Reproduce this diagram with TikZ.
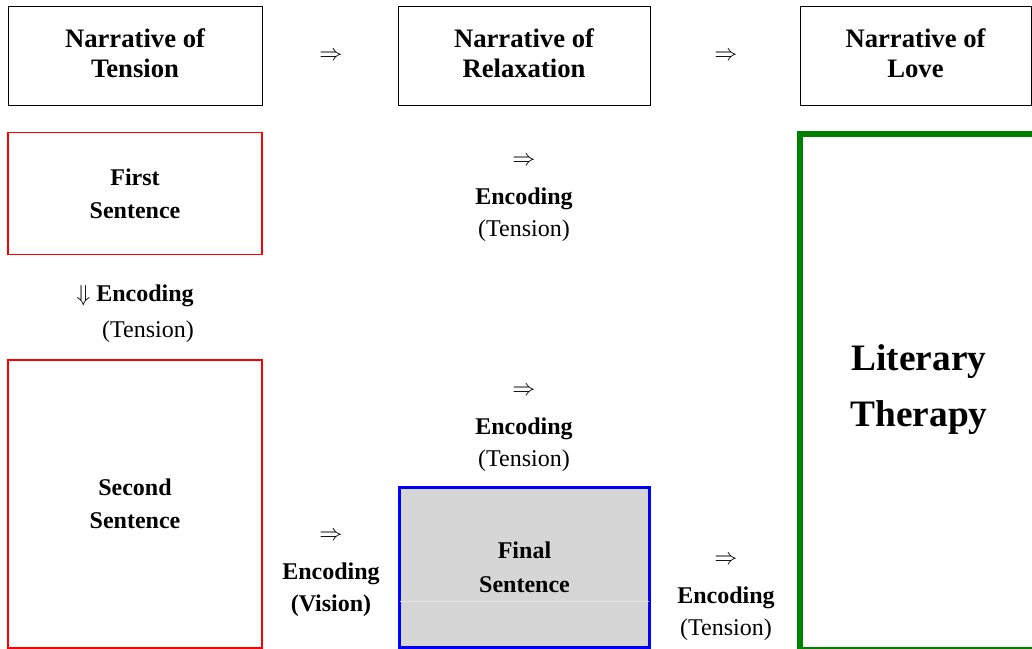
\documentclass[tikz,border=0pt]{standalone}
\usepackage{fontspec}
\setmainfont{Liberation Serif}
\usetikzlibrary{positioning}

\tikzset{
  headbox/.style={draw=black, line width=0.75pt, minimum height=74.25pt, align=center,
    font=\fontsize{20}{22.5}\selectfont\bfseries},
  sentbox/.style={draw=red, line width=0.9pt, minimum width=190.5pt, align=center,
    font=\fontsize{18}{24.5}\selectfont\bfseries},
  enctext/.style={align=center, font=\fontsize{18}{24}\selectfont},
}

\begin{document}
\begin{tikzpicture}[x=0.75pt,y=0.75pt,yscale=-1,xscale=1]
\useasboundingbox (0,0) rectangle (1032,649);

%Top row
\node [headbox, minimum width=190.5pt] (tension) at (135,56.5) {Narrative of\\Tension\\[-18pt]};
\node [headbox, minimum width=189pt] (relax) at (524,56.5) {Narrative of\\Relaxation\\[-18pt]};
\node [headbox, minimum width=173.25pt] (love) at (915.5,56.5) {Narrative of\\Love\\[-18pt]};
\node [enctext] (arrA) at (331,56) {$\Rightarrow$};
\node [enctext] (arrB) at (726,56) {$\Rightarrow$};

%Sentences
\node [sentbox, minimum height=91.5pt] (first) at (135,193.5) {First\\Sentence};
\node [sentbox, minimum height=216pt] (second) at (135,504) {Second\\Sentence};
\node [draw=blue, line width=2.25pt, fill={rgb,255:red,214;green,214;blue,214},
  minimum width=188pt, minimum height=120pt, align=center,
  font=\fontsize{18}{25.5}\selectfont\bfseries] (final) at (524.5,567) {Final\\Sentence};
\draw [color={rgb,255:red,228;green,228;blue,228}, line width=0.6pt] (400,601) -- (649,601);

%Literary therapy
\draw [color={rgb,255:red,0;green,128;blue,0}, line width=4.5pt] (1040,134) -- (800,134) -- (800,649.5);
\draw [color={rgb,255:red,0;green,128;blue,0}, line width=1.5pt] (800,647.5) -- (1040,647.5);
\node [align=center, font=\fontsize{28}{42}\selectfont\bfseries] (therapy) at (919,390) {Literary\\Therapy};

%Encodings
\node [enctext] (encA) at (524,199) {$\Rightarrow$\\[5pt]\textbf{Encoding}\\(Tension)};
\node [enctext, align=right] (encB) at (135,314) {$\Downarrow$ \textbf{Encoding}\\[3pt](Tension)};
\node [enctext] (encC) at (524,429) {$\Rightarrow$\\[5pt]\textbf{Encoding}\\(Tension)};
\node [enctext] (encD) at (331,574) {$\Rightarrow$\\[5pt]\textbf{Encoding}\\\textbf{(Vision)}};
\node [enctext] (encE) at (726,598) {$\Rightarrow$\\[5pt]\textbf{Encoding}\\(Tension)};

\end{tikzpicture}
\end{document}
